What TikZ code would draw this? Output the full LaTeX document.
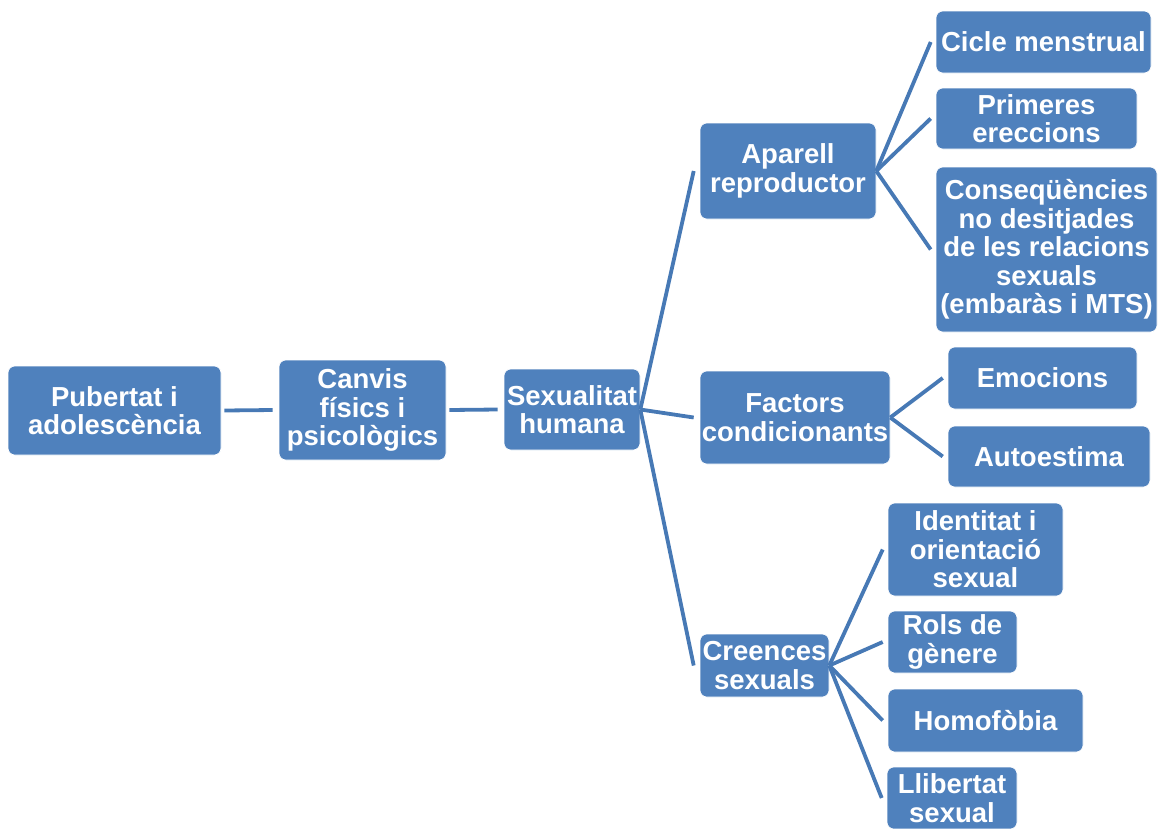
\documentclass[tikz,border=0pt]{standalone}
\usepackage{fontspec}
\setmainfont{Liberation Sans}
\usepackage{tikz}
\usetikzlibrary{shapes,calc}

\definecolor{boxblue}{HTML}{4F81BD}
\definecolor{lineblue}{HTML}{4779B5}

\begin{document}
\begin{tikzpicture}
    \tikzstyle{edge} = [line width=3.8pt,draw=lineblue]
    \tikzstyle{box}=[
      rectangle,
      rounded corners=7pt,
      fill=boxblue,
      draw=white,
      line width=0.6pt,
      text=white,
      font=\fontsize{27.5}{28.4}\selectfont\bfseries,
      align=center,
      inner sep=0pt,
      anchor=center,
    ]

    \coordinate (topAnchor) at (0,0);
    \useasboundingbox (topAnchor) rectangle ([xshift=1162pt, yshift=-828pt] topAnchor);

    % main chain
    {
      \node[box, minimum width=213pt, minimum height=89pt] (pub) at ([xshift=114.5pt, yshift=-410.5pt] topAnchor) {Pubertat i\\adolescència};
      \node[box, minimum width=167pt, minimum height=100pt] (canvis) at ([xshift=362.5pt, yshift=-410pt] topAnchor) {Canvis\\físics i\\psicològics};
      \node[box, minimum width=136pt, minimum height=81pt] (sex) at ([xshift=572pt, yshift=-409.5pt] topAnchor) {Sexualitat\\humana};

      \draw[edge] ([xshift=3pt] pub.east)--([xshift=-6pt] canvis.west);
      \draw[edge] ([xshift=3pt] canvis.east)--([xshift=-6pt] sex.west);
    }

    % second level
    {
      \node[box, minimum width=176pt, minimum height=96pt] (sex1) at ([xshift=788pt, yshift=-171pt] topAnchor) {Aparell\\reproductor};
      \node[box, minimum width=190pt, minimum height=93pt] (sex2) at ([xshift=795pt, yshift=-417.5pt] topAnchor) {Factors\\condicionants};
      \node[box, minimum width=129pt, minimum height=63pt] (sex3) at ([xshift=764.5pt, yshift=-665.5pt] topAnchor) {Creences\\sexuals};

      \draw[edge] (sex.east)--([xshift=-6pt] sex1.west);
      \draw[edge] (sex.east)--([xshift=-6pt] sex2.west);
      \draw[edge] (sex.east)--([xshift=-6pt] sex3.west);
    }

    % third level
    {
      \node[box, minimum width=215pt, minimum height=62pt] (sex11) at ([xshift=1043.5pt, yshift=-42pt] topAnchor) {Cicle menstrual};
      \node[box, minimum width=201pt, minimum height=61pt] (sex12) at ([xshift=1036.5pt, yshift=-118.5pt] topAnchor) {Primeres\\ereccions};
      \node[box, minimum width=221pt, minimum height=165pt] (sex13) at ([xshift=1046.5pt, yshift=-249.5pt] topAnchor) {Conseqüències\\no desitjades\\de les relacions\\sexuals\\(embaràs i MTS)};

      \node[box, minimum width=189pt, minimum height=62pt] (sex21) at ([xshift=1042.5pt, yshift=-378pt] topAnchor) {Emocions};
      \node[box, minimum width=202pt, minimum height=61pt] (sex22) at ([xshift=1049pt, yshift=-456.5pt] topAnchor) {Autoestima};

      \node[box, minimum width=175pt, minimum height=93pt] (sex31) at ([xshift=975.5pt, yshift=-549.5pt] topAnchor) {Identitat i\\orientació\\sexual};
      \node[box, minimum width=129pt, minimum height=62pt] (sex32) at ([xshift=952.5pt, yshift=-642pt] topAnchor) {Rols de\\gènere};
      \node[box, minimum width=195pt, minimum height=63pt] (sex33) at ([xshift=985.5pt, yshift=-720.5pt] topAnchor) {Homofòbia};
      \node[box, minimum width=130pt, minimum height=62pt] (sex34) at ([xshift=952pt, yshift=-798pt] topAnchor) {Llibertat\\sexual};

      \draw[edge] (sex1.east)--([xshift=-5pt] sex11.west);
      \draw[edge] (sex1.east)--([xshift=-5pt] sex12.west);
      \draw[edge] (sex1.east)--([xshift=-5pt] sex13.west);

      \draw[edge] (sex2.east)--([xshift=-5pt] sex21.west);
      \draw[edge] (sex2.east)--([xshift=-5pt] sex22.west);

      \draw[edge] (sex3.east)--([xshift=-5pt] sex31.west);
      \draw[edge] (sex3.east)--([xshift=-5pt] sex32.west);
      \draw[edge] (sex3.east)--([xshift=-5pt] sex33.west);
      \draw[edge] (sex3.east)--([xshift=-5pt] sex34.west);
    }
  \end{tikzpicture}
\end{document}
